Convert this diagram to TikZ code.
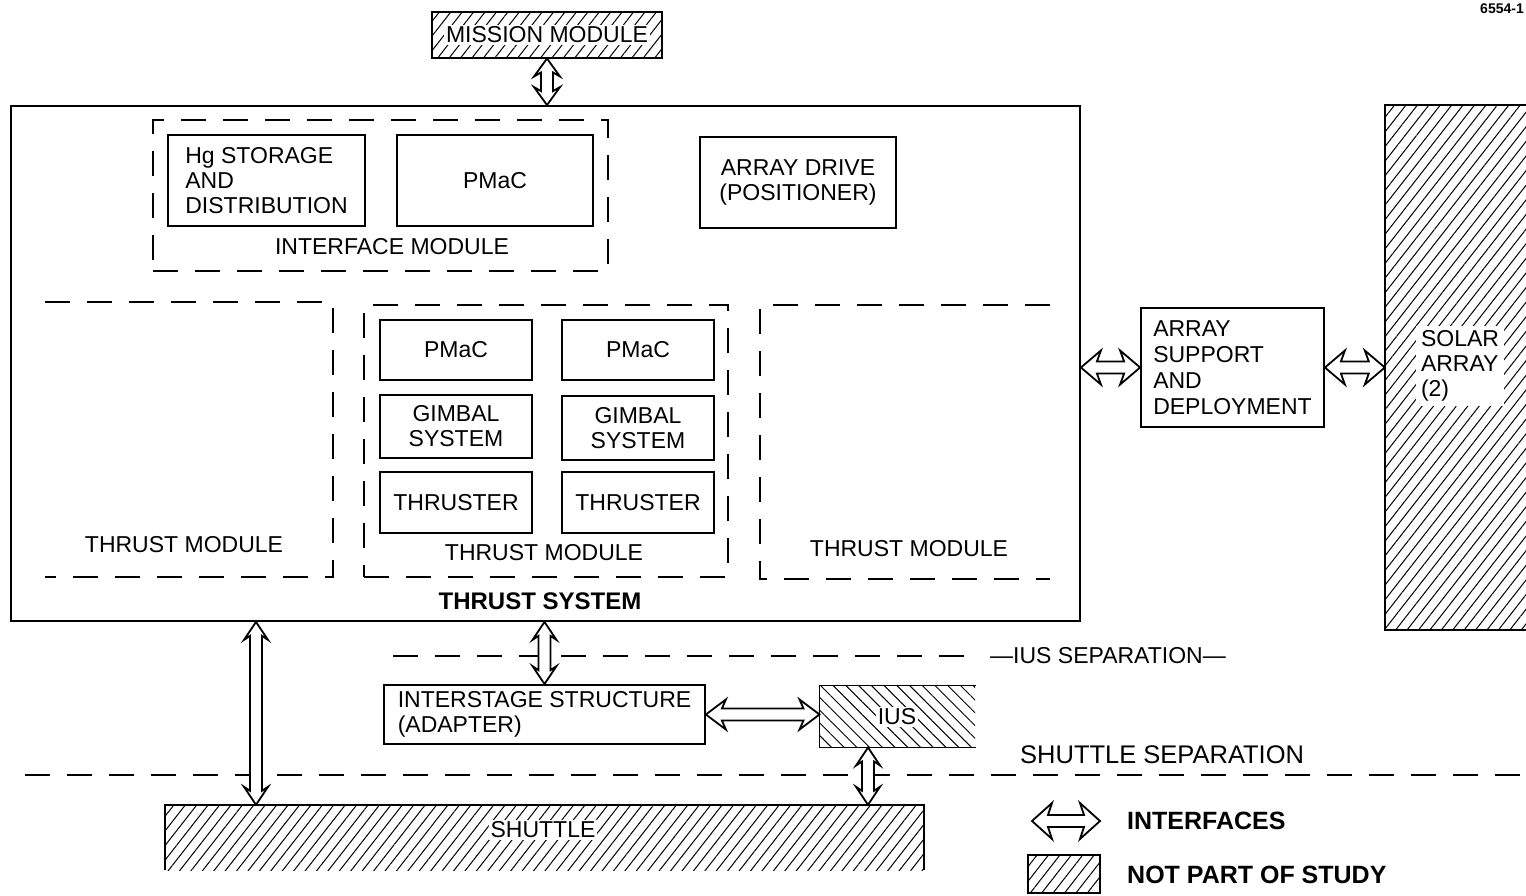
\documentclass[tikz,border=0pt]{standalone}
\usepackage{fontspec}
\setmainfont{Liberation Sans}
\usetikzlibrary{patterns.meta,calc}
\newcommand\lblfont{\fontsize{23}{25}\selectfont}
\newcommand\bigfont{\fontsize{24}{26}\selectfont\bfseries}
\newcommand\legfont{\fontsize{25}{27}\selectfont\bfseries}
\tikzset{
  box/.style={draw, line width=1.8pt, inner sep=0pt, font=\lblfont},
  dbox/.style={draw, line width=1.8pt, dash pattern=on 25pt off 17pt, inner sep=0pt},
  dsh/.style={line width=1.8pt, dash pattern=on 25pt off 17pt},
  lbl/.style={font=\lblfont, inner sep=0pt},
  hatch/.style={pattern={Lines[angle=52,distance=9pt,line width=1pt]}},
  hatchb/.style={pattern={Lines[angle=-45,distance=9pt,line width=1pt]}},
  ifc/.style={draw, line width=1.8pt, fill=white, line join=miter},
  edge/.style={line width=1.8pt},
}
% vertical double interface arrow: #2 = top point, #3 = bottom point
\newcommand\vifc[3][12pt]{%
  \path[ifc] let \p1=(#2), \p2=(#3) in
  (\x1,\y1) -- (\x1+#1,\y1-18pt) -- (\x1+6pt,\y1-14pt) -- (\x1+6pt,\y2+14pt)
  -- (\x1+#1,\y2+18pt) -- (\x1,\y2) -- (\x1-#1,\y2+18pt) -- (\x1-6pt,\y2+14pt)
  -- (\x1-6pt,\y1-14pt) -- (\x1-#1,\y1-18pt) -- cycle;}
% horizontal double interface arrow: #2 = left point, #3 = right point
\newcommand\hifc[3][15pt]{%
  \path[ifc] let \p1=(#2), \p2=(#3) in
  (\x1,\y1) -- (\x1+20pt,\y1+#1) -- (\x1+16pt,\y1+6pt) -- (\x2-16pt,\y1+6pt)
  -- (\x2-20pt,\y1+#1) -- (\x2,\y1) -- (\x2-20pt,\y1-#1) -- (\x2-16pt,\y1-6pt)
  -- (\x1+16pt,\y1-6pt) -- (\x1+20pt,\y1-#1) -- cycle;}
\begin{document}
\begin{tikzpicture}[x=1pt,y=-1pt]
\useasboundingbox (0,0) rectangle (1526,896);

% mission module
\node[box, hatch, minimum width=230pt, minimum height=46pt] (mission) at (547,35) {};
\node[lbl, fill=white, inner sep=2pt] (missionlbl) at (mission) {MISSION MODULE};

% thrust system
\node[box, minimum width=1069pt, minimum height=515pt] (ts) at (545.5,363.5) {};
\node[font=\bigfont, inner sep=0pt] (tslbl) at (540,601) {THRUST SYSTEM};

% interface module
\node[dbox, minimum width=455pt, minimum height=151pt] (iface) at (380.5,195.5) {};
\node[lbl] (ifacelbl) at (392,247) {INTERFACE MODULE};
\node[box, minimum width=197pt, minimum height=91pt, align=left] (hg) at (266.5,180.5) {Hg STORAGE\\AND\\DISTRIBUTION};
\node[box, minimum width=196pt, minimum height=91pt] (pm0) at (495,180.5) {PMaC};
\node[box, minimum width=196pt, minimum height=91pt, align=center] (drive) at (798,182.5) {ARRAY DRIVE\\(POSITIONER)};

% left thrust module
\draw[dsh] (45,302) -- (333,302) -- (333,577) -- (45,577);
\node[lbl] (tm1lbl) at (184,545) {THRUST MODULE};

% middle thrust module
\node[dbox, minimum width=364pt, minimum height=272pt] (tm2) at (546,441) {};
\node[lbl] (tm2lbl) at (544,553) {THRUST MODULE};
\node[box, minimum width=152pt, minimum height=60pt] (pmL) at (456,350) {PMaC};
\node[box, minimum width=152pt, minimum height=60pt] (pmR) at (638,350) {PMaC};
\node[box, minimum width=152pt, minimum height=63pt, align=center] (gmL) at (456,426.5) {GIMBAL\\SYSTEM};
\node[box, minimum width=152pt, minimum height=64pt, align=center] (gmR) at (638,428) {GIMBAL\\SYSTEM};
\node[box, minimum width=152pt, minimum height=61pt] (thL) at (456,502.5) {THRUSTER};
\node[box, minimum width=152pt, minimum height=61pt] (thR) at (638,502.5) {THRUSTER};

% right thrust module
\draw[dsh] (1050,305) -- (760,305) -- (760,579) -- (1050,579);
\node[lbl] (tm3lbl) at (909,549) {THRUST MODULE};

% array support and deployment
\node[box, minimum width=183pt, minimum height=119pt, align=left, font=\fontsize{23}{26}\selectfont] (asd) at (1232.5,367.5) {ARRAY\\SUPPORT\\AND\\DEPLOYMENT};

% solar array
\node[hatch, minimum width=145pt, minimum height=525pt, inner sep=0pt] (solar) at (1457.5,367.5) {};
\draw[edge] (solar.north east) -- (solar.north west) -- (solar.south west) -- (solar.south east);
\node[lbl, fill=white, align=left, inner sep=5pt] (solarlbl) at (1460,366) {SOLAR\\ARRAY\\(2)};

% IUS separation
\coordinate (iusA) at (393,656);
\coordinate (iusB) at (975,656);
\draw[dsh] (iusA) -- (iusB);
\node[lbl, anchor=west] (iussep) at (990,656) {—IUS SEPARATION—};

% interstage structure
\node[box, minimum width=321pt, minimum height=59pt, align=left] (isa) at (544.5,714.5) {INTERSTAGE STRUCTURE\\(ADAPTER)};

% IUS
\node[hatchb, minimum width=155pt, minimum height=61pt, inner sep=0pt] (ius) at (897.5,716.5) {};
\draw[edge] (ius.north east) -- (ius.north west) -- (ius.south west) -- (ius.south east);
\node[lbl, fill=white, inner sep=2pt] (iuslbl) at (897,717) {IUS};

% shuttle separation
\coordinate (shA) at (25,775);
\coordinate (shB) at (1526,775);
\draw[dsh] (shA) -- (shB);
\node[font=\fontsize{25.5}{27}\selectfont, anchor=base west, inner sep=0pt] (shsep) at (1020,763) {SHUTTLE SEPARATION};

% shuttle
\node[hatch, minimum width=759pt, minimum height=65pt, inner sep=0pt] (shuttle) at (544.5,837.5) {};
\draw[edge] (shuttle.south west) -- (shuttle.north west) -- (shuttle.north east) -- (shuttle.south east);
\node[lbl, fill=white, inner sep=2pt] (shuttlelbl) at (543,830) {SHUTTLE};

% interfaces
\coordinate (a1) at (256,0);
\coordinate (a2) at (868,0);
\vifc[13pt]{mission.south}{mission.south |- ts.north}
\hifc[17pt]{ts.east |- asd.west}{asd.west}
\hifc[17pt]{asd.east}{solar.west |- asd.east}
\vifc{ts.south -| a1}{shuttle.north -| a1}
\vifc{isa.north |- ts.south}{isa.north}
\hifc[15pt]{isa.east}{ius.west |- isa.east}
\vifc{ius.south -| a2}{shuttle.north -| a2}

% legend
\coordinate (lg1) at (1032,821);
\coordinate (lg2) at (1100,821);
\hifc[18pt]{lg1}{lg2}
\node[font=\legfont, anchor=west, inner sep=0pt] (legifc) at (1127,821) {INTERFACES};
\node[box, hatch, minimum width=72pt, minimum height=38pt] (leghatch) at (1064,874) {};
\node[font=\legfont, anchor=west, inner sep=0pt] (legnps) at (1127,875) {NOT PART OF STUDY};

% figure number
\node[font=\fontsize{14}{14}\selectfont\bfseries, inner sep=0pt] (fignum) at (1502,9) {6554-1};
\end{tikzpicture}
\end{document}
